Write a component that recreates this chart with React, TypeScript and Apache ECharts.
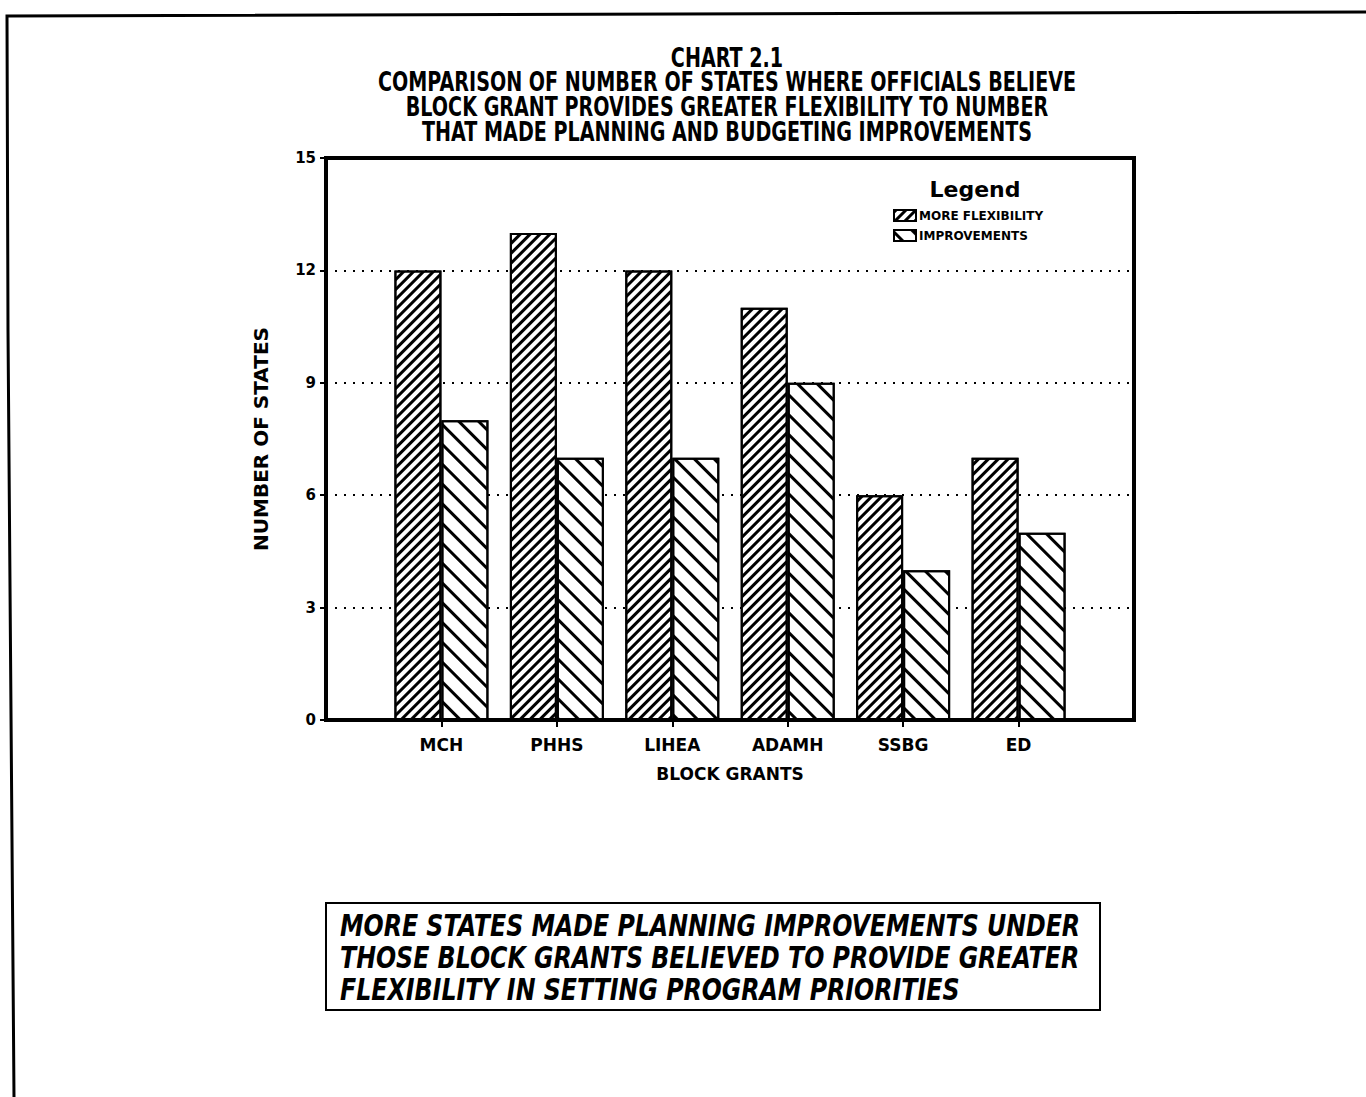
import React, { useEffect, useRef } from "react";
import * as echarts from "echarts";

const categories = ["", "MCH", "PHHS", "LIHEA", "ADAMH", "SSBG", "ED", ""];
const moreFlexibility = [null, 12, 13, 12, 11, 6, 7, null];
const improvements = [null, 8, 7, 7, 9, 4, 5, null];
const seriesNames = ["MORE FLEXIBILITY", "IMPROVEMENTS"];
const titleLines = [
  "CHART 2.1",
  "COMPARISON OF NUMBER OF STATES WHERE OFFICIALS BELIEVE",
  "BLOCK GRANT PROVIDES GREATER FLEXIBILITY TO NUMBER",
  "THAT MADE PLANNING AND BUDGETING IMPROVEMENTS",
];
const noteLines = [
  "MORE STATES MADE PLANNING IMPROVEMENTS UNDER",
  "THOSE BLOCK GRANTS BELIEVED TO PROVIDE GREATER",
  "FLEXIBILITY IN SETTING PROGRAM PRIORITIES",
];

const BOLD = '"DejaVu Sans", "Liberation Sans", sans-serif';

export default function App() {
  const ref = useRef<HTMLDivElement>(null);
  useEffect(() => {
    if (!ref.current) return;
    const chart = echarts.init(ref.current, null, { renderer: "svg" });
    const titleY = [58, 82, 107, 132];
    const noteY = [925, 957, 989];
    chart.setOption({
      animation: false,
      backgroundColor: "#fff",
      legend: {
        data: seriesNames,
        orient: "vertical",
        left: 888,
        top: 204,
        itemGap: 7,
        itemWidth: 22,
        itemHeight: 11,
        icon: "rect",
        textStyle: { fontFamily: BOLD, fontWeight: "bold", fontSize: 12, color: "#000", padding: [0, 0, 0, -2] },
      },
      grid: {
        left: 326,
        top: 158,
        right: 232,
        bottom: 377,
        show: true,
        borderWidth: 4,
        borderColor: "#000",
        containLabel: false,
      },
      xAxis: {
        type: "category",
        data: categories,
        boundaryGap: false,
        axisLine: { show: true, lineStyle: { color: "#000", width: 4 } },
        axisTick: {
          show: true,
          length: 7,
          lineStyle: { color: "#000", width: 2 },
          interval: (i: number, v: string) => v !== "",
        },
        axisLabel: {
          margin: 16,
          fontFamily: BOLD,
          fontWeight: "bold",
          fontSize: 17,
          color: "#000",
        },
        splitLine: { show: false },
        name: "BLOCK GRANTS",
        nameLocation: "middle",
        nameGap: 45,
        nameTextStyle: { fontFamily: BOLD, fontWeight: "bold", fontSize: 17, color: "#000" },
      },
      yAxis: {
        type: "value",
        min: 0,
        max: 15,
        interval: 3,
        axisLine: { show: true, lineStyle: { color: "#000", width: 4 } },
        axisTick: { show: true, length: 6, lineStyle: { color: "#000", width: 2 } },
        axisLabel: {
          margin: 10,
          fontFamily: BOLD,
          fontWeight: "bold",
          fontSize: 15,
          color: "#000",
        },
        splitLine: {
          show: true,
          lineStyle: { color: "#000", width: 2, type: [2, 7] },
        },
        name: "NUMBER OF STATES",
        nameLocation: "middle",
        nameRotate: 90,
        nameGap: 55,
        nameTextStyle: { fontFamily: BOLD, fontWeight: "bold", fontSize: 20, color: "#000" },
      },
      series: [
        {
          name: seriesNames[0],
          type: "bar",
          data: moreFlexibility,
          barWidth: 47,
          barGap: "0%",
          itemStyle: {
            color: "#fff",
            borderColor: "#000",
            borderWidth: 2,
            decal: {
              symbol: "rect",
              symbolSize: 1,
              color: "#000",
              backgroundColor: "#fff",
              dashArrayX: [1, 0],
              dashArrayY: [3, 4],
              rotation: -Math.PI / 4,
            },
          },
        },
        {
          name: seriesNames[1],
          type: "bar",
          data: improvements,
          barWidth: 47,
          barGap: "0%",
          itemStyle: {
            color: "#fff",
            borderColor: "#000",
            borderWidth: 2,
            decal: {
              symbol: "rect",
              symbolSize: 1,
              color: "#000",
              backgroundColor: "#fff",
              dashArrayX: [1, 0],
              dashArrayY: [3, 11],
              rotation: Math.PI / 4,
            },
          },
        },
      ],
      graphic: [
        {
          type: "polyline",
          shape: { points: [[1366, 12], [7, 16], [8, 330], [14, 1097]] },
          style: { stroke: "#000", lineWidth: 3, fill: "none" },
        },
        ...titleLines.map((t, i) => ({
          type: "group",
          x: 727,
          y: titleY[i],
          scaleX: 0.736,
          children: [
            {
              type: "text",
              x: 0,
              y: 0,
              style: {
                text: t,
                fontFamily: BOLD,
                fontWeight: "bold",
                fontSize: 26,
                fill: "#000",
                textAlign: "center",
                textVerticalAlign: "middle",
              },
            },
          ],
        })),
        {
          type: "text",
          x: 975,
          y: 178,
          style: {
            text: "Legend",
            fontFamily: BOLD,
            fontWeight: "bold",
            fontSize: 22,
            fill: "#000",
            textAlign: "center",
          },
        },
        {
          type: "rect",
          shape: { x: 326, y: 903, width: 774, height: 107 },
          style: { stroke: "#000", lineWidth: 2, fill: "none" },
        },
        ...noteLines.map((t, i) => ({
          type: "group",
          x: 340,
          y: noteY[i],
          scaleX: 0.79,
          children: [
            {
              type: "text",
              x: 0,
              y: 0,
              style: {
                text: t,
                fontFamily: BOLD,
                fontWeight: "bold",
                fontStyle: "italic",
                fontSize: 30,
                fill: "#000",
                textVerticalAlign: "middle",
              },
            },
          ],
        })),
      ],
    });
    return () => chart.dispose();
  }, []);
  return (
    <div
      ref={ref}
      style={{ position: "absolute", left: 0, top: 0, width: 1366, height: 1097 }}
    />
  );
}
